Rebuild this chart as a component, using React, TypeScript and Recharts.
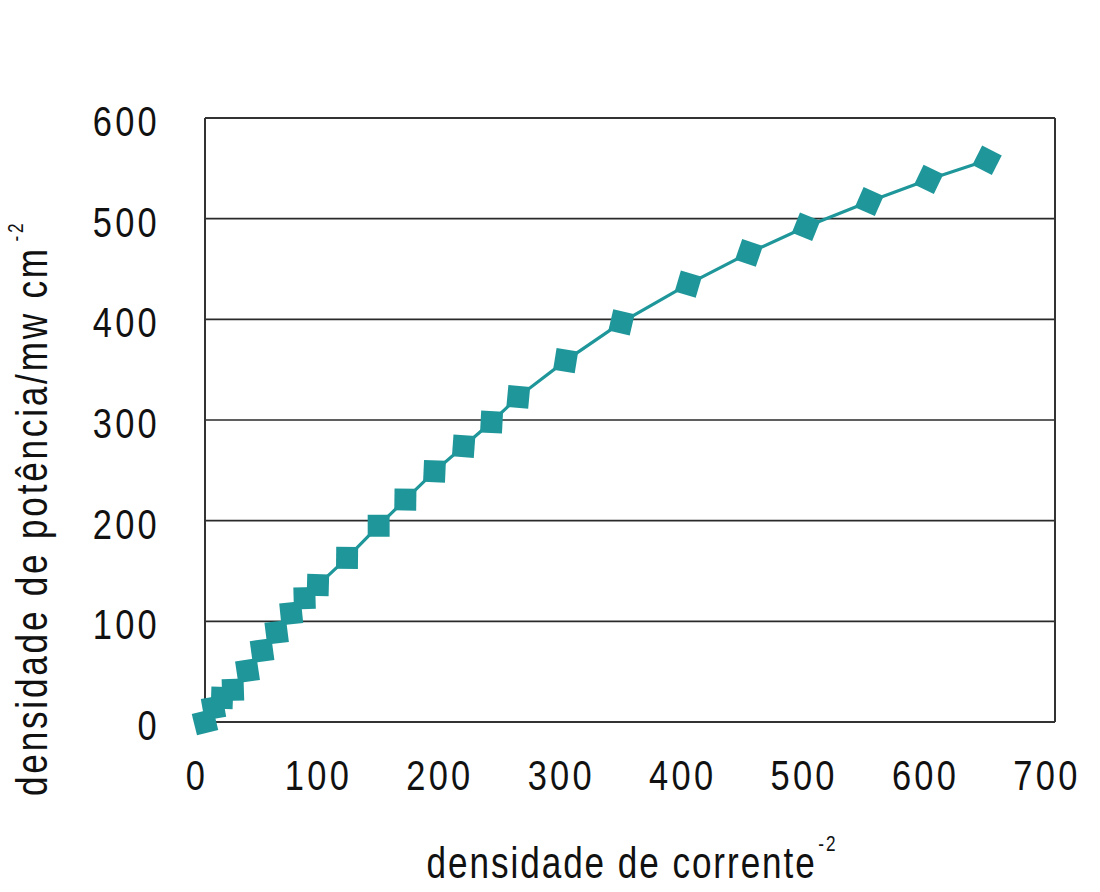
import React from "react";
import {
  LineChart,
  Line,
  XAxis,
  YAxis,
  CartesianGrid,
  ReferenceLine,
} from "recharts";

// densidade de corrente (x) vs densidade de potência (y)
const currentDensity = [
  0, 7, 14, 23, 35, 47, 59, 71, 82, 93, 117, 143, 165, 189, 213, 236, 258, 297,
  343, 398, 448, 495, 547, 596, 644,
];
const powerDensity = [
  0, 14, 24, 32, 51, 71, 89, 108, 123, 136, 163, 195, 221, 249, 274, 298, 323,
  359, 397, 435, 466, 492, 517, 539, 558,
];
const xTicks = [0, 100, 200, 300, 400, 500, 600, 700];
const yTicks = [0, 100, 200, 300, 400, 500, 600];

const data = currentDensity.map((x, i) => ({ x, y: powerDensity[i] }));

const TEAL = "#1f979a";
const FONT = "'Liberation Sans', Arial, sans-serif";

const XTick = (props: any) => {
  const { x, y, payload } = props;
  return (
    <g transform={`translate(${x - 8},${y})`}>
      <text
        transform="scale(0.82,1)"
        textAnchor="middle"
        dy="0.71em"
        fontSize={42}
        fontFamily={FONT}
        letterSpacing={4}
        fill="#111"
      >
        {payload.value}
      </text>
    </g>
  );
};

const YTick = (props: any) => {
  const { x, y, payload } = props;
  return (
    <g transform={`translate(${x},${y + 3})`}>
      <text
        transform="scale(0.82,1)"
        textAnchor="end"
        dy="0.355em"
        fontSize={42}
        fontFamily={FONT}
        letterSpacing={4}
        fill="#111"
      >
        {payload.value}
      </text>
    </g>
  );
};

// square marker turned so one diagonal follows the line
const DiamondDot = (props: any) => {
  const { cx, cy, index, points } = props;
  if (cx == null || cy == null) return null;
  let ang = -Math.PI / 4;
  if (points && points.length > 1) {
    const a = points[Math.max(0, index - 1)];
    const b = points[Math.min(points.length - 1, index + 1)];
    ang = Math.atan2(b.y - a.y, b.x - a.x);
  }
  const h = 15.5;
  const ux = Math.cos(ang) * h;
  const uy = Math.sin(ang) * h;
  const d = `M${cx + ux},${cy + uy} L${cx - uy},${cy + ux} L${cx - ux},${cy - uy} L${cx + uy},${cy - ux} Z`;
  return <path key={`dot-${index}`} d={d} fill={TEAL} stroke="none" />;
};

export default function App() {
  return (
    <div style={{ position: "absolute", left: 0, top: 0 }}>
      <LineChart
        width={1100}
        height={892}
        data={data}
        margin={{ top: 118, right: 45, bottom: 0, left: 0 }}
      >
        <CartesianGrid vertical={false} stroke="#2a2a2a" strokeWidth={1.6} />
        <XAxis
          dataKey="x"
          type="number"
          domain={[0, 700]}
          ticks={xTicks}
          height={170}
          tickSize={0}
          tickMargin={38}
          tick={<XTick />}
          axisLine={{ stroke: "#333", strokeWidth: 2 }}
        />
        <YAxis
          dataKey="y"
          type="number"
          domain={[0, 600]}
          ticks={yTicks}
          width={205}
          tickSize={0}
          tickMargin={45}
          tick={<YTick />}
          axisLine={{ stroke: "#333", strokeWidth: 2 }}
        />
        <ReferenceLine x={700} stroke="#333" strokeWidth={2} />
        <ReferenceLine y={600} stroke="#333" strokeWidth={2} />
        <Line
          type="linear"
          dataKey="y"
          stroke={TEAL}
          strokeWidth={3.2}
          dot={DiamondDot}
          activeDot={false}
          isAnimationActive={false}
        />
        <g transform="translate(632,878) scale(0.78,1)">
          <text
            textAnchor="middle"
            fontSize={45}
            fontFamily={FONT}
            letterSpacing={2.5}
            fill="#111"
          >
            densidade de corrente
            <tspan fontSize={22} dx={2} dy={-27}>
              -2
            </tspan>
          </text>
        </g>
        <g transform="translate(47,796) rotate(-90) scale(0.78,1)">
          <text
            textAnchor="start"
            fontSize={45}
            fontFamily={FONT}
            letterSpacing={3.6}
            fill="#111"
          >
            densidade de potência/mw cm
            <tspan fontSize={22} dx={6} dy={-24}>
              -2
            </tspan>
          </text>
        </g>
      </LineChart>
    </div>
  );
}
